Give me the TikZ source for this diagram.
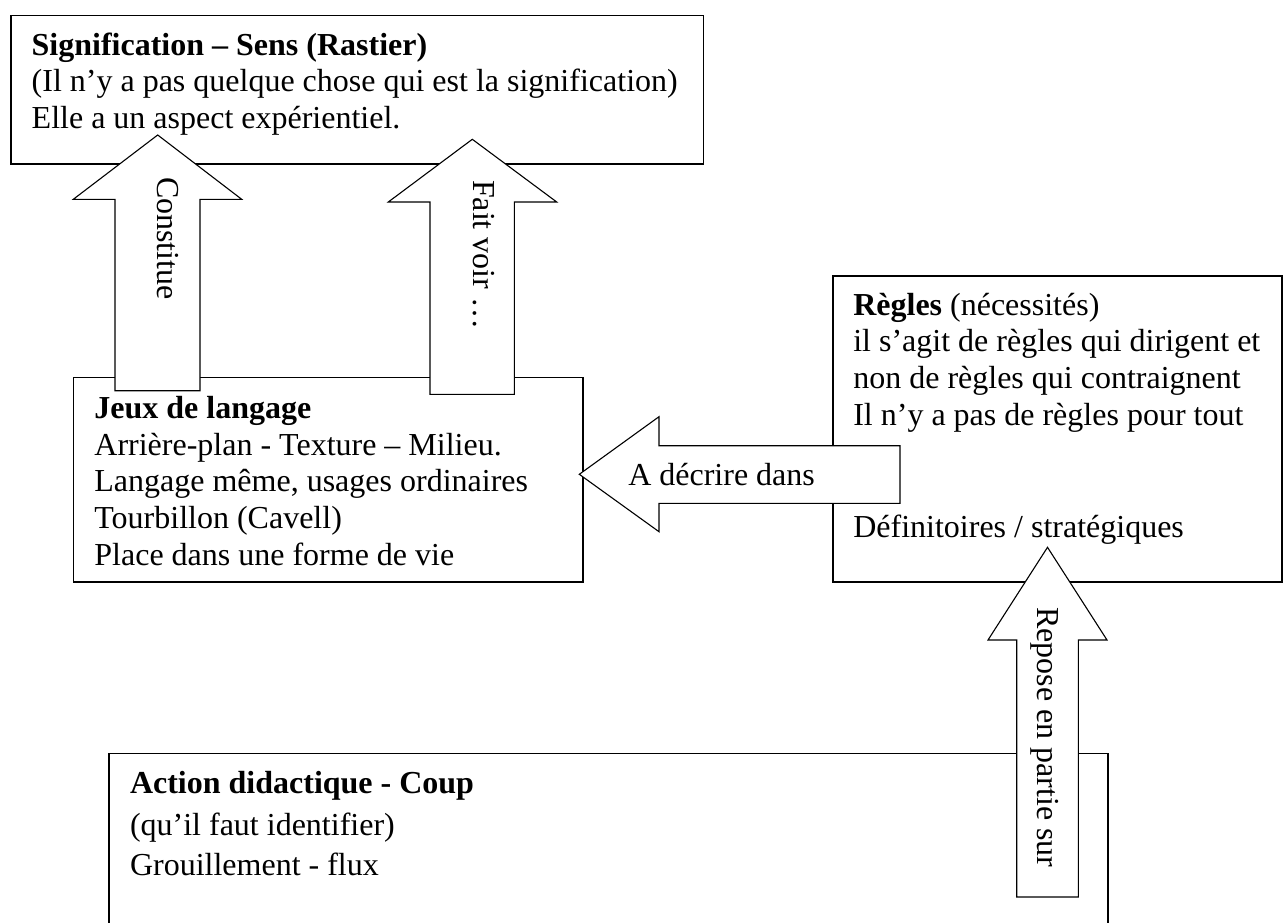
\documentclass[tikz,border=0pt]{standalone}
\usepackage{fontspec}
\setmainfont{Liberation Serif}
\begin{document}
\begin{tikzpicture}[x=1pt,y=-1pt,
  box/.style={draw, line width=1.6pt, rectangle, inner sep=0pt, outer sep=0pt},
  blk/.style={draw, fill=white, line width=1.1pt, line join=miter},
  txt/.style={anchor=base west, inner sep=0pt, outer sep=0pt, font=\fontsize{32}{36.7}\selectfont},
  vtxt/.style={txt, rotate=-90}]
\useasboundingbox (0,0) rectangle (1285,923);
% boxes
\node[box, minimum width=692.6pt, minimum height=148.3pt] (sig) at (357,89.85) {};
\node[box, minimum width=509.2pt, minimum height=204.4pt] (jeux) at (328.1,479.5) {};
\node[box, minimum width=449.3pt, minimum height=306pt] (regles) at (1057.35,428.7) {};
\node[box, minimum width=998.5pt, minimum height=190pt] (action) at (608.45,848.3) {};
% box texts
\node[txt] (sig1) at (31.7,56) {\bfseries Signification – Sens (Rastier)};
\node[txt] (sig2) at (31.7,92) {(Il n’y a pas quelque chose qui est la signification)};
\node[txt] (sig3) at (31.7,128.5) {Elle a un aspect expérientiel.};
\node[txt] (jeux1) at (94.4,418.3) {\bfseries Jeux de langage};
\node[txt] (jeux2) at (94.4,455) {Arrière-plan - Texture – Milieu.};
\node[txt] (jeux3) at (94.4,491.7) {Langage même, usages ordinaires};
\node[txt] (jeux4) at (94.4,528.3) {Tourbillon (Cavell)};
\node[txt] (jeux5) at (94.4,565) {Place dans une forme de vie};
\node[txt] (reg1) at (853.3,315) {\textbf{Règles} (nécessités)};
\node[txt] (reg2) at (853.3,351.7) {il s’agit de règles qui dirigent et};
\node[txt] (reg3) at (853.3,388.3) {non de règles qui contraignent};
\node[txt] (reg4) at (853.3,425) {Il n’y a pas de règles pour tout};
\node[txt] (reg5) at (853.3,537.3) {Définitoires / stratégiques};
\node[txt] (act1) at (130,793) {\bfseries Action didactique - Coup};
\node[txt] (act2) at (130,835.5) {(qu’il faut identifier)};
\node[txt] (act3) at (130,875) {Grouillement - flux};
% block arrows
\coordinate (c1tip) at (157.7,135);
\coordinate (c2tip) at (472.3,139.3);
\coordinate (c3tip) at (579.3,474.3);
\coordinate (c4tip) at (1047.5,547.3);
\draw[blk] (c1tip) -- (241.7,199.3) -- (200,199.3) -- (200,390.7) -- (115,390.7) -- (115,199.3) -- (73.3,199.3) -- cycle;
\draw[blk] (c2tip) -- (556.7,202) -- (514.3,202) -- (514.3,394.3) -- (430,394.3) -- (430,202) -- (388.3,202) -- cycle;
\draw[blk] (c3tip) -- (659,416.7) -- (659,445.7) -- (900,445.7) -- (900,503.3) -- (659,503.3) -- (659,531.7) -- cycle;
\draw[blk] (c4tip) -- (1107,640) -- (1078.3,640) -- (1078.3,897) -- (1016.7,897) -- (1016.7,640) -- (988,640) -- cycle;
% arrow labels
\node[vtxt] (lab1) at (157,177) {Constitue};
\node[vtxt] (lab2) at (473,180) {Fait voir …};
\node[txt] (lab3) at (628.3,485) {A décrire dans};
\node[vtxt] (lab4) at (1037,607) {Repose en partie sur};
\end{tikzpicture}
\end{document}
